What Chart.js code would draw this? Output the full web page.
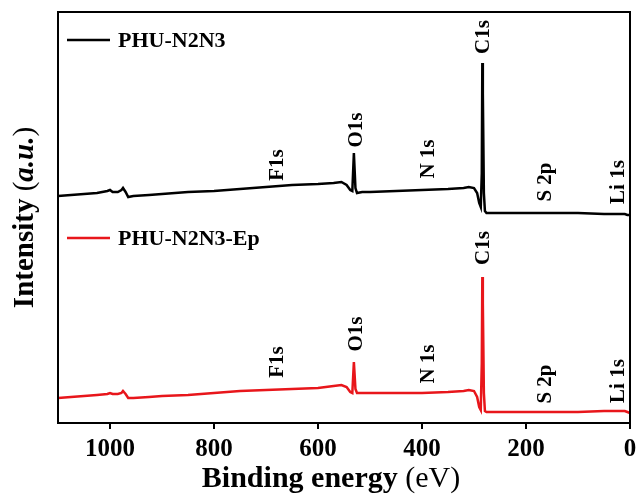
<!DOCTYPE html>
<html>
<head>
<meta charset="utf-8">
<script src="https://cdn.jsdelivr.net/npm/chart.js@4/dist/chart.umd.min.js"></script>
<style>
  html, body { margin: 0; padding: 0; background: #fff; }
  #wrap { width: 637px; height: 495px; }
</style>
</head>
<body>
<div id="wrap"><canvas id="chart"></canvas></div>
<script>
// binding energy (eV)
var energy = [1100, 1075, 1050, 1025, 1005, 1000, 995, 985, 978, 975, 970, 965, 955, 925, 900, 850, 800, 750, 700, 650, 600, 570, 555, 545, 538, 534, 531, 528, 525, 515, 500, 450, 400, 350, 320, 310, 300, 294, 290, 287, 285, 284, 283, 281, 279, 276, 270, 250, 200, 150, 100, 50, 20, 10, 5, 0];

// intensity, arbitrary units (stacked offset as in the figure)
var phu = [227, 228, 229, 230, 232, 233, 231, 231, 233, 235, 231, 226, 227, 228, 229, 231, 232, 234, 236, 238, 239, 240, 241, 238, 233, 232, 270, 235, 230, 231, 231, 232, 233, 234, 235, 236, 235, 230, 220, 216, 250, 360, 330, 230, 212, 210, 210, 210, 210, 210, 210, 209, 209, 209, 208, 208];
var phuEp = [25, 26, 27, 28, 29, 30, 29, 29, 30, 32, 29, 25, 25, 26, 27, 28, 30, 32, 33, 34, 35, 37, 38, 36, 31, 30, 61, 34, 30, 30, 30, 30, 30, 31, 32, 33, 32, 26, 16, 13, 60, 146, 120, 30, 12, 11, 11, 11, 11, 11, 11, 12, 12, 12, 11, 10];

var seriesNames = ['PHU-N2N3', 'PHU-N2N3-Ep'];
var seriesColors = ['#000000', '#e8161b'];

// peak labels
var peakNames = ['F1s', 'O1s', 'N 1s', 'C1s', 'S 2p', 'Li 1s'];
var peakEnergy = [679, 528, 390, 283, 165, 23];
var labelTop = [258, 293, 264, 386, 241, 241];
var labelBottom = [61, 89, 59, 175, 39, 42];

var serif = "'Liberation Serif', 'Times New Roman', serif";

function toPoints(vals) {
    var pts = [];
    for (var i = 0; i < energy.length; i++) {
        pts.push({x: energy[i], y: vals[i]});
    }
    return pts;
}

// draws a run of differently styled pieces centred on 0
function mixedText(ctx, parts) {
    var total = 0;
    parts.forEach(function (p) { ctx.font = p[1] + serif; total += ctx.measureText(p[0]).width; });
    var cx = -total / 2;
    parts.forEach(function (p) {
        ctx.font = p[1] + serif;
        ctx.fillText(p[0], cx, 0);
        cx += ctx.measureText(p[0]).width;
    });
}

var decor = {
    id: 'decor',
    afterDraw: function (chart) {
        var ctx = chart.ctx;
        var a = chart.chartArea;
        var xs = chart.scales.x, ys = chart.scales.y;
        ctx.save();

        // frame
        ctx.strokeStyle = '#000';
        ctx.lineWidth = 2;
        ctx.strokeRect(a.left, a.top, a.right - a.left, a.bottom - a.top);

        // peak labels, rotated
        ctx.fillStyle = '#000';
        ctx.font = 'bold 21px ' + serif;
        ctx.textAlign = 'center';
        ctx.textBaseline = 'middle';
        for (var i = 0; i < peakNames.length; i++) {
            var px = xs.getPixelForValue(peakEnergy[i]);
            [labelTop[i], labelBottom[i]].forEach(function (v) {
                ctx.save();
                ctx.translate(px, ys.getPixelForValue(v));
                ctx.rotate(-Math.PI / 2);
                ctx.fillText(peakNames[i], 0, 1);
                ctx.restore();
            });
        }

        // legends
        var legY = [a.top + 28, a.top + 226];
        ctx.font = 'bold 22px ' + serif;
        ctx.textAlign = 'left';
        for (var k = 0; k < seriesNames.length; k++) {
            ctx.strokeStyle = seriesColors[k];
            ctx.lineWidth = 2.5;
            ctx.beginPath();
            ctx.moveTo(a.left + 9, legY[k]);
            ctx.lineTo(a.left + 52, legY[k]);
            ctx.stroke();
            ctx.fillStyle = '#000';
            ctx.fillText(seriesNames[k], a.left + 60, legY[k] + 1);
        }

        // x title
        ctx.textBaseline = 'alphabetic';
        ctx.save();
        ctx.translate(331, 487);
        mixedText(ctx, [['Binding energy ', 'bold 30px '], ['(eV)', '30px ']]);
        ctx.restore();

        // y title with italic a.u.
        ctx.translate(33, (a.top + a.bottom) / 2);
        ctx.rotate(-Math.PI / 2);
        mixedText(ctx, [['Intensity ', 'bold 29px '], ['(', '29px '], ['a.u.', 'italic bold 29px '], [')', '29px ']]);
        ctx.restore();
    }
};

new Chart(document.getElementById('chart'), {
    type: 'line',
    data: {
        datasets: [
            {label: seriesNames[0], data: toPoints(phu), borderColor: seriesColors[0], borderWidth: 2.5, pointRadius: 0, tension: 0},
            {label: seriesNames[1], data: toPoints(phuEp), borderColor: seriesColors[1], borderWidth: 2.5, pointRadius: 0, tension: 0}
        ]
    },
    options: {
        responsive: true,
        maintainAspectRatio: false,
        animation: false,
        layout: {padding: {top: 12, right: 7, left: 0, bottom: 0}},
        plugins: {legend: {display: false}, tooltip: {enabled: false}},
        scales: {
            x: {
                type: 'linear',
                reverse: true,
                min: 0,
                max: 1100,
                afterFit: function (s) { s.height = 72; s.paddingLeft = 0; s.paddingRight = 0; },
                ticks: {stepSize: 200, includeBounds: false, color: '#000', padding: 6,
                    callback: function (v) { return String(v); },
                    font: {family: serif, size: 25, weight: 'bold'}},
                grid: {drawOnChartArea: false, drawTicks: true, tickLength: 6, color: '#000', lineWidth: 2},
                border: {display: false}
            },
            y: {
                min: 0,
                max: 411,
                afterFit: function (s) { s.width = 58; },
                ticks: {display: false},
                grid: {display: false},
                border: {display: false}
            }
        }
    },
    plugins: [decor]
});
</script>
</body>
</html>
